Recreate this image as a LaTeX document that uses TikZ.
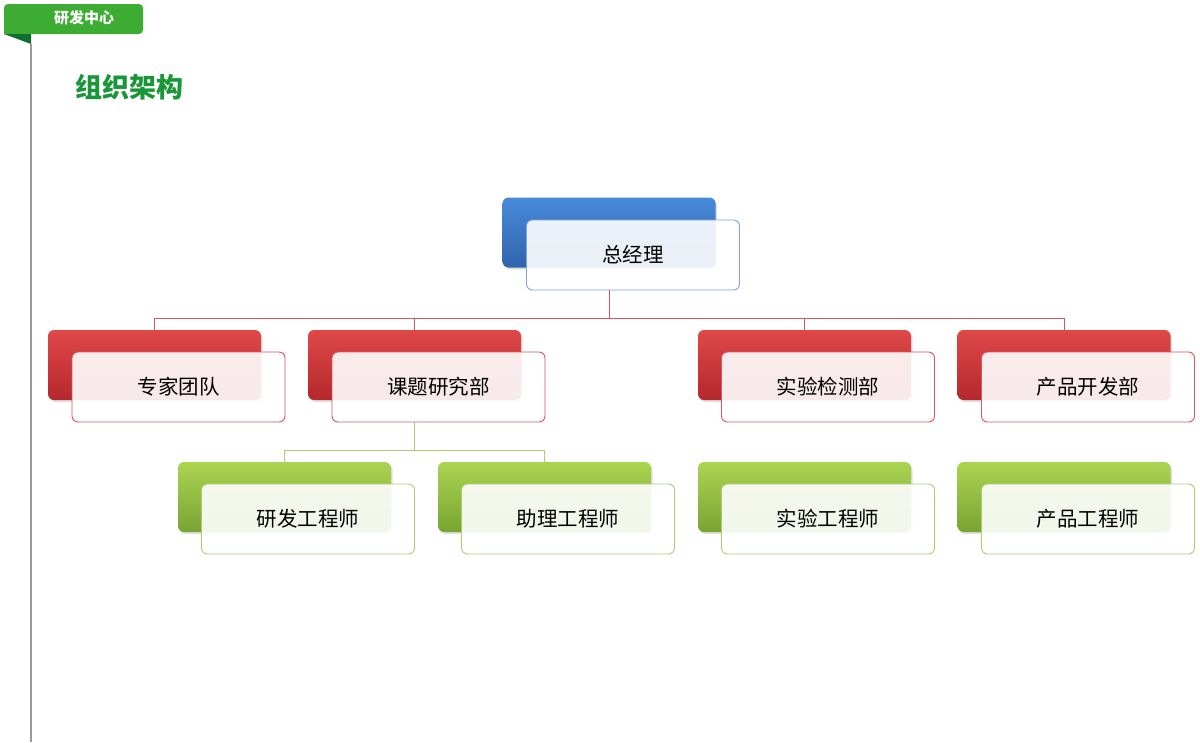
\documentclass[tikz,border=0pt]{standalone}
\usepackage{fontspec}
\newfontfamily\cjk{Noto Sans CJK SC}
\usepackage{tikz}
\definecolor{blueTop}{RGB}{72,138,218}
\definecolor{blueBot}{RGB}{48,100,172}
\definecolor{blueLine}{RGB}{125,165,225}
\definecolor{redTop}{RGB}{224,72,72}
\definecolor{redBot}{RGB}{180,40,45}
\definecolor{redLine}{RGB}{215,85,95}
\definecolor{greenTop}{RGB}{172,212,82}
\definecolor{greenBot}{RGB}{120,165,50}
\definecolor{greenLine}{RGB}{170,205,110}
\definecolor{tabGreen}{RGB}{60,172,50}
\definecolor{foldGreen}{RGB}{16,110,50}
\definecolor{titleGreen}{RGB}{25,150,55}
\usetikzlibrary{shadows}
\usetikzlibrary{positioning}

\begin{document}
\begin{tikzpicture}[x=1pt, y=-1pt, %Pixelraster, y nach unten
    back/.style={rounded corners=6pt, minimum width=213pt, minimum height=70pt, inner sep=0pt,
        drop shadow={opacity=0.25, shadow xshift=1.5pt, shadow yshift=-2pt}},
    front/.style={draw, rounded corners=6pt, minimum width=213pt, minimum height=70pt, inner sep=0pt,
        fill=white, fill opacity=0.9, text opacity=1, line width=0.9pt, text=black,
        font=\cjk\fontsize{20.5}{24}\selectfont},
    blueback/.style={back, top color=blueTop, bottom color=blueBot},
    bluefront/.style={front, draw=blueLine},
    redback/.style={back, top color=redTop, bottom color=redBot},
    redfront/.style={front, draw=redLine},
    greenback/.style={back, top color=greenTop, bottom color=greenBot},
    greenfront/.style={front, draw=greenLine},
    redline/.style={draw=redLine, line width=0.9pt},
    greenline/.style={draw=greenLine, line width=0.9pt}]
    \useasboundingbox (0,0) rectangle (1200,742);
    % Reiter oben links
    \fill[tabGreen] (4,34) [rounded corners=4pt] -- (4,4) -- (143,4) -- (143,34) [sharp corners] -- cycle;
    \fill[foldGreen] (4,34) -- (31,34) -- (31,44) -- cycle;
    \draw[gray!80, line width=1.2pt] (31,44) -- (31,742);
    \node[text=white, font=\cjk\bfseries\fontsize{15}{17}\selectfont] (tab) at (84,18) {研发中心};
    \node[anchor=west, text=titleGreen, font=\cjk\bfseries\fontsize{27}{30}\selectfont] (title) at (72,87) {组织架构};
    % oberste Ebene
    \node[blueback] (gmB) at (609,232.5) {};
    \node[bluefront] (gm) at (633,255) {总经理};
    % zweite Ebene
    \node[redback] (zjB) at (154.5,365) {};
    \node[redfront] (zj) at (178.5,387) {专家团队};
    \node[redback] (ktB) at (414.5,365) {};
    \node[redfront] (kt) at (438.5,387) {课题研究部};
    \node[redback] (syB) at (804.5,365) {};
    \node[redfront] (sy) at (828,387) {实验检测部};
    \node[redback] (cpB) at (1064,365) {};
    \node[redfront] (cp) at (1088,387) {产品开发部};
    % dritte Ebene
    \node[greenback] (yfB) at (284.5,497) {};
    \node[greenfront] (yf) at (308,519) {研发工程师};
    \node[greenback] (zlB) at (544.5,497) {};
    \node[greenfront] (zl) at (568,519) {助理工程师};
    \node[greenback] (sgB) at (804.5,497) {};
    \node[greenfront] (sg) at (828,519) {实验工程师};
    \node[greenback] (cgB) at (1064,497) {};
    \node[greenfront] (cg) at (1088,519) {产品工程师};
    % Verbindungen
    \draw[redline] (gm.south -| gmB.center) -- ++(0,28) coordinate (bus);
    \draw[redline] (bus) -| (zjB.north);
    \draw[redline] (bus) -| (ktB.north);
    \draw[redline] (bus) -| (syB.north);
    \draw[redline] (bus) -| (cpB.north);
    \draw[greenline] (kt.south -| ktB.center) -- ++(0,28) coordinate (bus2);
    \draw[greenline] (bus2) -| (yfB.north);
    \draw[greenline] (bus2) -| (zlB.north);
\end{tikzpicture}
\end{document}
